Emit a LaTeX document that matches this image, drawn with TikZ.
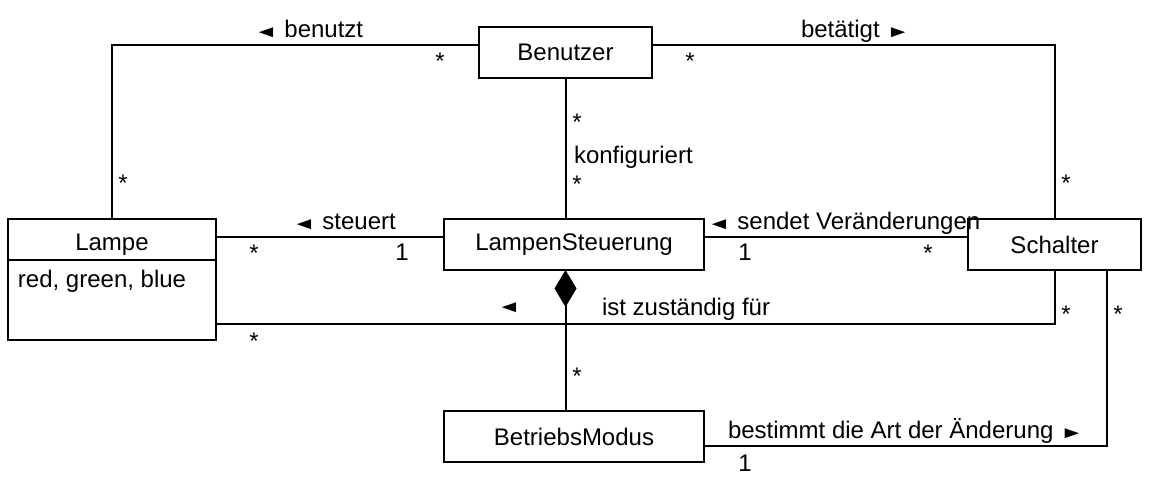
\documentclass[tikz,border=0pt]{standalone}
\usepackage{fontspec}
\setmainfont{Liberation Sans}
\usetikzlibrary{arrows.meta}

\tikzset{
  klasse/.style={draw, line width=1pt, inner sep=0pt, outer sep=0pt, anchor=north west, minimum height=25.5pt},
  lbl/.style={inner sep=0pt, anchor=base west},
  mult/.style={inner sep=0pt, anchor=base},
}
\newcommand{\la}{\scalebox{1}[0.7]{◄}}
\newcommand{\ra}{\scalebox{1}[0.7]{►}}

\begin{document}
\begin{tikzpicture}[x=0.5pt, y=-0.5pt, line width=1pt, font=\fontsize{12}{14}\selectfont]
    \useasboundingbox (0,0) rectangle (1170,482);
    \node[klasse, minimum width=86.5pt] (benutzer) at (479,27) {Benutzer};
    \node[klasse, minimum width=104pt, minimum height=60.5pt] (lampe) at (8,219) {};
    \node[klasse, minimum width=130pt] (steuerung) at (444,219) {LampenSteuerung};
    \node[klasse, minimum width=86.5pt] (schalter) at (968,219) {Schalter};
    \node[klasse, minimum width=130pt] (modus) at (444,411) {BetriebsModus};
    \node[mult] (lampeName) at (112,250) {Lampe};
    \node[lbl] (lampeAttr) at (17,287) {red, green, blue};
    \draw ([yshift=-20.5pt]lampe.north west) -- ([yshift=-20.5pt]lampe.north east);

    \draw ([yshift=3.75pt]benutzer.west) -| (lampe.north);
    \draw ([yshift=3.75pt]benutzer.east) -| (schalter.north);
    \draw (benutzer.south) -- (benutzer.south |- steuerung.north);
    \draw ([yshift=3.75pt]steuerung.west) -- ([yshift=3.75pt]steuerung.west -| lampe.east);
    \draw ([yshift=3.75pt]steuerung.east) -- ([yshift=3.75pt]schalter.west);
    \draw ([yshift=-22.25pt]lampe.east) -| (schalter.south);
    \draw[{Diamond[length=18.5pt,width=11pt]}-] (benutzer.south |- steuerung.south) -- (benutzer.south |- modus.north);
    \draw ([yshift=-4.75pt]modus.east) -| ([xshift=26.25pt]schalter.south);

    \node[lbl] (lbBenutzt) at (253,37) {\la{} benutzt};
    \node[lbl] (lbBetaetigt) at (800,37) {betätigt \ra};
    \node[lbl] (lbKonf) at (573,163) {konfiguriert};
    \node[lbl] (lbSteuert) at (291,229) {\la{} steuert};
    \node[lbl] (lbSendet) at (706,229) {\la{} sendet Veränderungen};
    \node[inner sep=0pt] (lbZustPfeil) at (509,308) {\la};
    \node[lbl] (lbZust) at (601,315) {ist zuständig für};
    \node[lbl] (lbBestimmt) at (727,438) {bestimmt die Art der Änderung \ra};

    \node[mult] (m1) at (440,69) {*};
    \node[mult] (m2) at (123,191) {*};
    \node[mult] (m3) at (690,69) {*};
    \node[mult] (m4) at (1066,191) {*};
    \node[mult] (m5) at (577,130) {*};
    \node[mult] (m6) at (577,192) {*};
    \node[mult] (m7) at (254,261) {*};
    \node[mult] (m8) at (402,260) {1};
    \node[mult] (m9) at (745,260) {1};
    \node[mult] (m10) at (928,261) {*};
    \node[mult] (m11) at (254,349) {*};
    \node[mult] (m12) at (1066,322) {*};
    \node[mult] (m13) at (1118,322) {*};
    \node[mult] (m14) at (577,384) {*};
    \node[mult] (m15) at (745,471) {1};
\end{tikzpicture}
\end{document}
